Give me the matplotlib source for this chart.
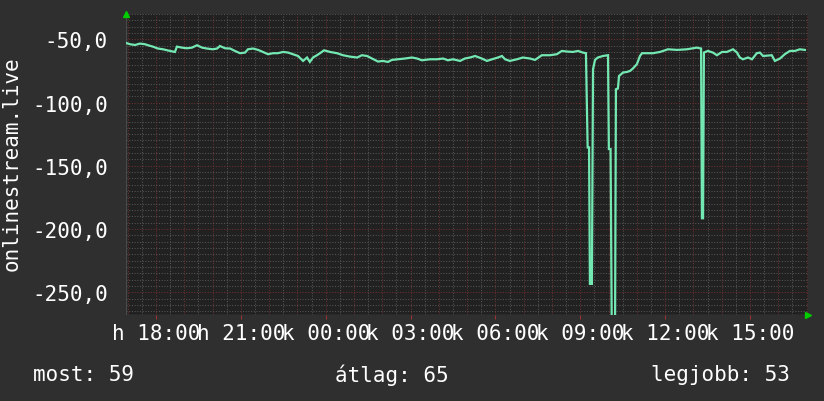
import numpy as np
import matplotlib
matplotlib.use("Agg")
import matplotlib.pyplot as plt
from matplotlib.ticker import MultipleLocator, FixedLocator

# ora (18 = hetfo 18:00, 24 = kedd 00:00) es jelszint ertekek
orak = [16.90, 17.08, 17.26, 17.43, 17.61, 17.72, 17.89, 18.07, 18.25, 18.49,
        18.67, 18.74, 18.92, 19.10, 19.27, 19.45, 19.63, 19.80, 20.01, 20.16,
        20.26, 20.44, 20.62, 20.79, 20.97, 21.15, 21.25, 21.43, 21.61, 21.78,
        21.96, 22.14, 22.31, 22.49, 22.67, 22.84, 23.02, 23.20, 23.34, 23.44,
        23.55, 23.69, 23.80, 23.94, 24.15, 24.40, 24.61, 24.86, 25.11, 25.28,
        25.46, 25.64, 25.85, 26.02, 26.20, 26.34, 26.55, 26.80, 27.05, 27.23,
        27.40, 27.69, 27.93, 28.15, 28.32, 28.50, 28.75, 28.92, 29.10, 29.28,
        29.52, 29.70, 29.88, 30.09, 30.23, 30.34, 30.51, 30.76, 30.97, 31.22,
        31.40, 31.64, 31.93, 32.17, 32.35, 32.53, 32.74, 32.92, 33.09, 33.20,
        33.26, 33.31, 33.34, 33.41, 33.45, 33.52, 33.62, 33.80, 33.98, 34.01,
        34.07, 34.11, 34.23, 34.26, 34.33, 34.37, 34.51, 34.65, 34.76, 34.86,
        35.00, 35.11, 35.18, 35.57, 35.82, 36.10, 36.42, 36.77, 37.12, 37.27,
        37.30, 37.34, 37.37, 37.51, 37.69, 37.83, 38.01, 38.18, 38.40, 38.54,
        38.64, 38.75, 38.93, 39.07, 39.24, 39.35, 39.46, 39.77, 39.88, 40.06,
        40.23, 40.41, 40.59, 40.76, 40.94]
ertekek = [-52.6, -53.9, -54.5, -53.4, -53.9, -54.7, -55.8, -57.3, -57.9, -59.2,
           -60.0, -55.8, -56.6, -57.1, -56.6, -54.7, -56.6, -57.3, -57.9, -57.3,
           -55.3, -57.1, -57.3, -59.2, -61.0, -60.5, -57.9, -57.3, -58.4, -60.0,
           -61.8, -61.0, -61.0, -60.0, -60.5, -61.8, -63.2, -67.1, -64.4, -67.9,
           -64.4, -62.6, -61.0, -58.7, -60.0, -61.0, -62.6, -63.7, -64.4, -62.6,
           -63.2, -65.2, -67.6, -67.1, -67.9, -66.3, -65.8, -65.2, -64.4, -65.2,
           -66.6, -65.8, -65.8, -65.2, -66.6, -65.8, -67.1, -65.2, -64.4, -63.2,
           -65.2, -67.1, -65.8, -64.4, -63.2, -65.8, -67.1, -65.8, -64.4, -65.2,
           -66.3, -62.6, -62.6, -61.8, -59.2, -59.7, -60.0, -59.2, -60.5, -61.0,
           -135.5, -135.5, -243.4, -243.4, -73.7, -66.3, -64.4, -63.2, -62.6, -136.8,
           -136.8, -270.0, -270.0, -89.5, -88.9, -79.0, -76.3, -75.8, -75.0, -73.1,
           -69.7, -63.2, -61.0, -61.0, -60.0, -57.9, -58.4, -57.9, -56.6, -57.3,
           -191.5, -191.5, -60.5, -59.2, -60.5, -62.6, -60.0, -60.0, -57.9, -60.5,
           -64.4, -65.8, -64.4, -65.8, -61.0, -60.5, -63.2, -62.6, -67.1, -65.2,
           -61.8, -59.2, -59.2, -57.9, -58.4]

ora_cimkek = [18, 21, 24, 27, 30, 33, 36, 39]
cimkek = ["h 18:00", "h 21:00", "k 00:00", "k 03:00",
          "k 06:00", "k 09:00", "k 12:00", "k 15:00"]

osszesites = ["most: 59", "átlag: 65", "legjobb: 53"]

hatter = "#2f2f2f"
rajzter = "#212121"
vonal = "#74e8b2"

plt.rcParams["font.family"] = "DejaVu Sans Mono"

fig = plt.figure(figsize=(8.24, 4.02), dpi=100, facecolor=hatter)
ax = fig.add_axes([126 / 824, 1 - 316 / 402, 682 / 824, 301 / 402])
ax.set_facecolor(rajzter)

ax.set_xlim(16.94, 41.05)
ax.set_ylim(-268, -30)

ax.xaxis.set_major_locator(FixedLocator(ora_cimkek))
ax.yaxis.set_major_locator(MultipleLocator(50))

# racsvonalak (halvany pontozott)
pont = (0, (1, 1.6))
for o in np.arange(17, 41.5, 0.5):
    szin = "#6e3030" if o == int(o) else "#555555"
    ax.axvline(o, color=szin, lw=0.75, ls=pont, zorder=1)
for v in np.arange(-265, -29, 5):
    szin = "#6e3030" if v % 50 == 0 else "#555555"
    ax.axhline(v, color=szin, lw=0.75, ls=pont, zorder=1)

ax.plot(orak, ertekek, color=vonal, lw=1.6, zorder=3, solid_joinstyle="miter")

for s in ax.spines.values():
    s.set_visible(False)
ax.axhline(-268, color="#4a4a4a", lw=1, zorder=2)
ax.axvline(16.94, color="#4a4a4a", lw=1, zorder=2)

ax.set_xticks(ora_cimkek)
ax.set_xticklabels(cimkek)
ax.tick_params(axis="x", which="major", colors="white", labelsize=15,
               length=3, color="#993333", pad=3)
ax.tick_params(axis="y", which="major", colors="white", labelsize=15,
               length=0, pad=13)
ax.tick_params(which="minor", length=0)
ax.yaxis.set_major_formatter(plt.FuncFormatter(lambda v, p: f"{v:.1f}".replace(".", ",")))

# nyilak a tengelyek vegen
ax.plot([0.0], [1.0], marker="^", color="#00cc00", ms=5, transform=ax.transAxes,
        clip_on=False)
ax.plot([1.0], [0.0], marker=">", color="#00cc00", ms=5, transform=ax.transAxes,
        clip_on=False)

fig.text(12 / 824, 1 - 164 / 402, "onlinestream.live", rotation=90,
         color="white", fontsize=15, ha="center", va="center")

fig.text(33 / 824, 1 - 375 / 402, osszesites[0], color="white", fontsize=15,
         ha="left", va="center")
fig.text(335 / 824, 1 - 375 / 402, osszesites[1], color="white", fontsize=15,
         ha="left", va="center")
fig.text(790 / 824, 1 - 375 / 402, osszesites[2], color="white", fontsize=15,
         ha="right", va="center")

fig.savefig("out.png", dpi=100, facecolor=hatter)
